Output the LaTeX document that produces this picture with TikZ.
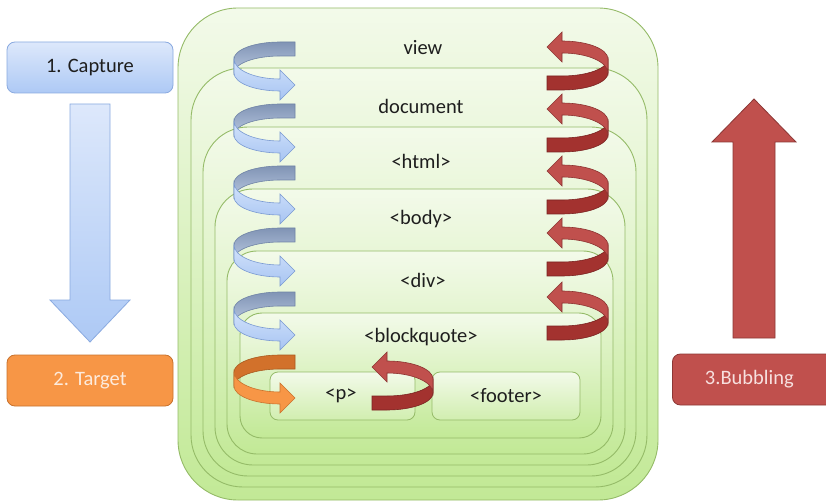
\documentclass[tikz,border=0pt]{standalone}
\usepackage{fontspec}
\setmainfont{Carlito}
\definecolor{frline}{HTML}{95BB68}
\definecolor{frtop}{HTML}{F3FAEA}
\definecolor{frbot}{HTML}{C2E996}
\definecolor{txt}{HTML}{1E1E1E}
\definecolor{bbackA}{HTML}{8194B5}
\definecolor{bbackB}{HTML}{B7C7DF}
\definecolor{bbackL}{HTML}{6F83A6}
\definecolor{bfrontA}{HTML}{D3E3FB}
\definecolor{bfrontB}{HTML}{A7C4F2}
\definecolor{bfrontL}{HTML}{7A9AD2}
\definecolor{rback}{HTML}{A3322F}
\definecolor{rbackL}{HTML}{7A2321}
\definecolor{rfront}{HTML}{C0504D}
\definecolor{rfrontL}{HTML}{8C3331}
\definecolor{oback}{HTML}{D2712B}
\definecolor{obackL}{HTML}{A95A1E}
\definecolor{ofront}{HTML}{F79646}
\definecolor{ofrontL}{HTML}{C9732E}
\definecolor{capA}{HTML}{DDE8FB}
\definecolor{capB}{HTML}{ADC9F5}
\definecolor{capL}{HTML}{8AAAE0}
\definecolor{tgtL}{HTML}{C8722D}
\definecolor{tgtT}{HTML}{FDEBDD}
\definecolor{bubL}{HTML}{8C3735}
\definecolor{bubT}{HTML}{F7E0DF}
\newcommand{\curlshape}[5]{%
  \begin{scope}[shift={(#1,#2)}, rotate=#3]
    \path[#4] (0,-43) -- (-15,-43)
      arc[start angle=270, end angle=180, x radius=46, y radius=17]
      -- (-61,-12)
      arc[start angle=180, end angle=270, x radius=46, y radius=17]
      -- (0,-29) -- cycle;
    \path[#5] (-61,-26)
      arc[start angle=180, end angle=90, x radius=46, y radius=20]
      -- (-15,-15) -- (0,0) -- (-15,15) -- (-15,6)
      arc[start angle=90, end angle=180, x radius=46, y radius=18]
      -- cycle;
  \end{scope}}
\begin{document}
\begin{tikzpicture}[x=1pt,y=-1pt,
  every node/.style={font=\fontsize{20.5}{24}\selectfont, text=txt, inner sep=0pt},
  frame/.style={draw=frline, line width=0.9pt, top color=frtop, bottom color=frbot},
  leaf/.style={draw=frline, line width=0.8pt, top color=frtop, bottom color=frbot!70!frtop, rounded corners=8pt},
  phasebox/.style={minimum width=166pt, minimum height=51pt, rounded corners=8pt, line width=0.8pt},
  blueback/.style={top color=bbackA, bottom color=bbackB, draw=bbackL, line width=0.6pt},
  bluefront/.style={top color=bfrontA, bottom color=bfrontB, draw=bfrontL, line width=0.6pt},
  redback/.style={fill=rback, draw=rbackL, line width=0.6pt},
  redfront/.style={fill=rfront, draw=rfrontL, line width=0.6pt},
  orangeback/.style={fill=oback, draw=obackL, line width=0.6pt},
  orangefront/.style={fill=ofront, draw=ofrontL, line width=0.6pt}]
\useasboundingbox (0,0) rectangle (826,502);
\fill[white] (0,0) rectangle (826,502);

% nested frames
\path[frame, rounded corners=60pt] (178,8) rectangle (658,500);
\path[frame, rounded corners=52pt] (191,68) rectangle (647,487);
\path[frame, rounded corners=45pt] (203,127) rectangle (636,476);
\path[frame, rounded corners=38pt] (215,189) rectangle (625,465);
\path[frame, rounded corners=30pt] (227,251) rectangle (613,454);
\path[frame, rounded corners=22pt] (240,313) rectangle (601,438);
\path[leaf] (270,372) rectangle (415,420);
\path[leaf] (432,372) rectangle (580,420);

% labels
\node (view) at (423,48) {view};
\node (document) at (421,106) {document};
\node (html) at (421,161) {<html>};
\node (body) at (421,219) {<body>};
\node (div) at (423,280) {<div>};
\node (blockquote) at (421,337) {<blockquote>};
\node (p) at (341,396) {<p>};
\node (footer) at (506,396) {<footer>};

% capture curls (blue), target curl (orange)
\curlshape{295}{85}{0}{blueback}{bluefront}
\curlshape{295}{147}{0}{blueback}{bluefront}
\curlshape{295}{209}{0}{blueback}{bluefront}
\curlshape{295}{271}{0}{blueback}{bluefront}
\curlshape{295}{335}{0}{blueback}{bluefront}
\curlshape{295}{398}{0}{orangeback}{orangefront}

% bubbling curls (red)
\curlshape{547}{47}{180}{redback}{redfront}
\curlshape{547}{109}{180}{redback}{redfront}
\curlshape{547}{171}{180}{redback}{redfront}
\curlshape{547}{233}{180}{redback}{redfront}
\curlshape{547}{297}{180}{redback}{redfront}
\curlshape{372}{367}{180}{redback}{redfront}

% phase boxes
\node[phasebox, top color=capA, bottom color=capB, draw=capL] (cap) at (90,67.5) {1. Capture};
\node[phasebox, fill=ofront, draw=tgtL, text=tgtT] (tgt) at (90,380.5) {2. Target};
\node[phasebox, fill=rfront, draw=bubL, text=bubT, anchor=west] (bub) at (672,379.5) {\hspace*{-12pt}3.Bubbling};

% big arrows
\path[top color=capA, bottom color=capB, draw=capL, line width=0.8pt]
  (70,104) -- (110,104) -- (110,300) -- (130,300) -- (90,342) -- (50,300) -- (70,300) -- cycle;
\path[fill=rfront, draw=bubL, line width=0.8pt]
  (733,338) -- (775,338) -- (775,142) -- (796,142) -- (754,99) -- (712,142) -- (733,142) -- cycle;
\end{tikzpicture}
\end{document}
